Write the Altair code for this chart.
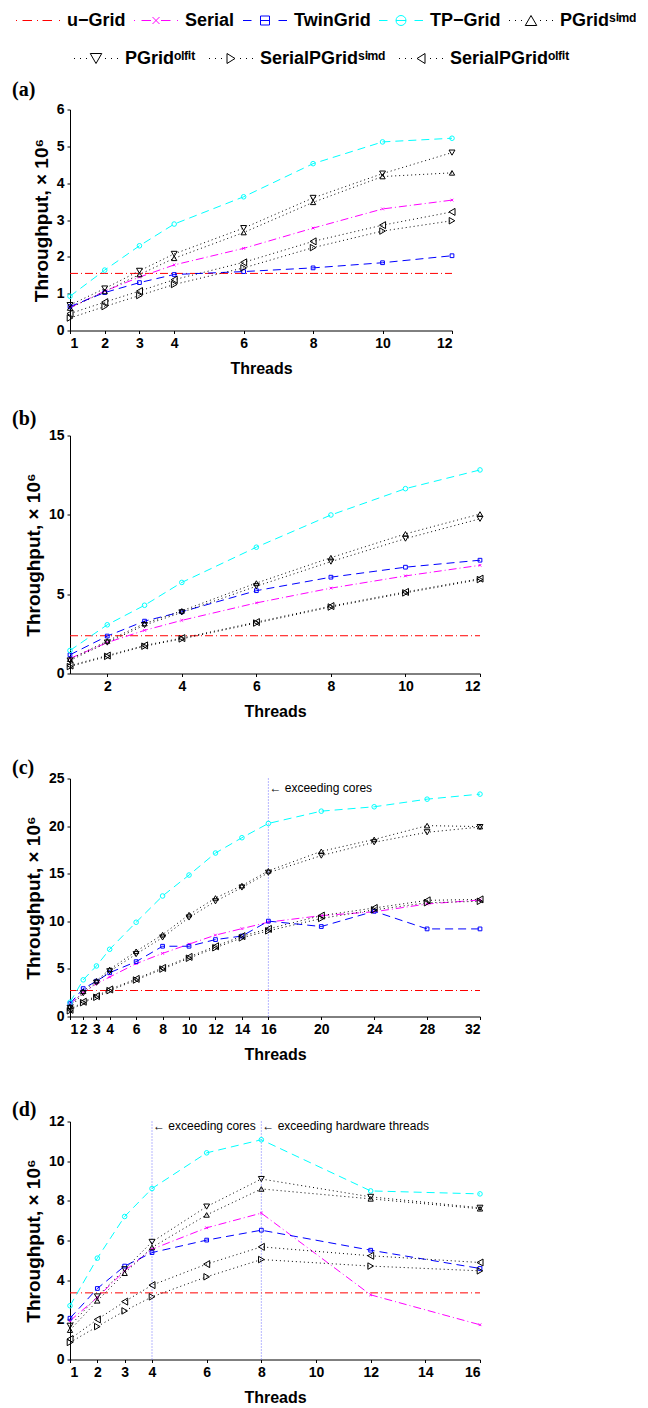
import altair as alt
import pandas as pd

# ---------------- data ----------------
NAMES = ["u−Grid", "Serial", "TwinGrid", "TP−Grid",
         "PGridˢⁱᵐᵈ", "PGridᵒˡᶠⁱᵗ", "SerialPGridˢⁱᵐᵈ", "SerialPGridᵒˡᶠⁱᵗ"]

# panel (a)
a_x = [1, 2, 3, 4, 6, 8, 10, 12]
a_ugrid = [1.55, 1.55, 1.55, 1.55, 1.55, 1.55, 1.55, 1.55]
a_serial = [0.62, 1.07, 1.45, 1.78, 2.23, 2.78, 3.30, 3.54]
a_twin = [0.65, 1.03, 1.30, 1.52, 1.60, 1.70, 1.84, 2.03]
a_tp = [0.93, 1.64, 2.30, 2.89, 3.63, 4.53, 5.12, 5.22]
a_psimd = [0.61, 1.06, 1.52, 1.96, 2.66, 3.48, 4.18, 4.28]
a_polfit = [0.69, 1.14, 1.62, 2.08, 2.78, 3.60, 4.26, 4.83]
a_spsimd = [0.34, 0.65, 0.95, 1.25, 1.70, 2.25, 2.70, 2.98]
a_spolfit = [0.46, 0.77, 1.07, 1.38, 1.85, 2.42, 2.86, 3.22]

# panel (b)
b_x = [1, 2, 3, 4, 6, 8, 10, 12]
b_ugrid = [2.38, 2.38, 2.38, 2.38, 2.38, 2.38, 2.38, 2.38]
b_serial = [0.95, 1.95, 2.72, 3.35, 4.45, 5.38, 6.15, 6.82]
b_twin = [1.18, 2.36, 3.30, 3.89, 5.22, 6.07, 6.70, 7.14]
b_tp = [1.45, 3.07, 4.30, 5.74, 7.96, 9.99, 11.65, 12.83]
b_psimd = [0.90, 2.05, 3.15, 3.95, 5.70, 7.30, 8.80, 10.05]
b_polfit = [0.82, 1.95, 3.05, 3.85, 5.50, 7.05, 8.50, 9.75]
b_spsimd = [0.44, 1.08, 1.72, 2.18, 3.18, 4.19, 5.08, 5.92]
b_spolfit = [0.50, 1.13, 1.77, 2.23, 3.24, 4.25, 5.14, 5.98]

# panel (c)
c_x = [1, 2, 3, 4, 6, 8, 10, 12, 14, 16, 20, 24, 28, 32]
c_ugrid = [2.73, 2.73, 2.73, 2.73, 2.73, 2.73, 2.73,
           2.73, 2.73, 2.73, 2.73, 2.73, 2.73, 2.73]
c_serial = [1.30, 2.50, 3.45, 4.15, 5.55, 6.63, 7.60, 8.55, 9.23, 9.91, 10.60, 11.00, 11.82, 12.24]
c_twin = [1.35, 2.93, 3.71, 4.60, 5.76, 7.38, 7.38, 8.08, 8.45, 10.02, 9.45, 11.05, 9.20, 9.20]
c_tp = [1.50, 3.85, 5.31, 7.06, 9.90, 12.66, 14.86, 17.17, 18.78, 20.28, 21.57, 22.03, 22.83, 23.36]
c_psimd = [1.05, 2.65, 3.75, 4.95, 6.85, 8.60, 10.70, 12.45, 13.75, 15.30, 17.35, 18.60, 20.05, 19.95]
c_polfit = [0.90, 2.45, 3.55, 4.75, 6.55, 8.30, 10.40, 12.10, 13.55, 15.10, 16.90, 18.30, 19.35, 19.90]
c_spsimd = [0.60, 1.45, 2.02, 2.72, 3.83, 4.98, 6.12, 7.22, 8.26, 9.00, 10.30, 11.20, 11.95, 12.10]
c_spolfit = [0.70, 1.55, 2.14, 2.84, 3.95, 5.10, 6.26, 7.38, 8.44, 9.20, 10.60, 11.40, 12.20, 12.30]

# panel (d)
d_x = [1, 2, 3, 4, 6, 8, 12, 16]
d_ugrid = [3.36, 3.36, 3.36, 3.36, 3.36, 3.36, 3.36, 3.36]
d_serial = [1.95, 3.13, 4.47, 5.56, 6.64, 7.38, 3.26, 1.75]
d_twin = [2.08, 3.58, 4.71, 5.39, 6.02, 6.52, 5.51, 4.59]
d_tp = [2.71, 5.11, 7.21, 8.62, 10.42, 11.08, 8.50, 8.35]
d_psimd = [1.48, 2.96, 4.35, 5.65, 7.29, 8.60, 8.10, 7.60]
d_polfit = [1.70, 3.18, 4.55, 5.93, 7.71, 9.10, 8.20, 7.65]
d_spsimd = [0.86, 1.66, 2.45, 3.16, 4.17, 5.04, 4.71, 4.47]
d_spolfit = [1.03, 2.02, 2.92, 3.75, 4.81, 5.68, 5.23, 4.89]

# axis ticks
a_xticks = [1, 2, 3, 4, 6, 8, 10, 12]
b_xticks = [2, 4, 6, 8, 10, 12]
c_xticks = [1, 2, 3, 4, 6, 8, 10, 12, 14, 16, 20, 24, 28, 32]
d_xticks = [1, 2, 3, 4, 6, 8, 10, 12, 14, 16]
a_yticks = [0, 1, 2, 3, 4, 5, 6]
b_yticks = [0, 5, 10, 15]
c_yticks = [0, 5, 10, 15, 20, 25]
d_yticks = [0, 2, 4, 6, 8, 10, 12]

# annotations (data units)
c_vlines = [16]
c_notes_x = [16]
c_notes_y = [23.95]
c_notes = ["← exceeding cores"]
d_vlines = [4, 8]
d_notes_x = [4, 8]
d_notes_y = [11.75, 11.75]
d_notes = ["← exceeding cores", "← exceeding hardware threads"]

# ---------------- styles ----------------
COLORS = ["#ff0000", "#ff00ff", "#0000ff", "#00ffff",
          "#000000", "#000000", "#000000", "#000000"]
DASHES = [[8, 3, 1, 3], [8, 3, 1, 3], [8, 5], [8, 5],
          [1, 3], [1, 3], [1, 3], [1, 3]]
XPATH = "M-1,-1L1,1M-1,1L1,-1"
SHAPES = ["circle", XPATH, "square", "circle",
          "triangle-up", "triangle-down", "triangle-right", "triangle-left"]
SIZES = [0, 49, 72, 64, 110, 110, 110, 110]


def seg(a, b):
    return f"M{a},0L{b},0"


def dot(a):
    return seg(a, round(a + 0.2, 2))


SQ = "M-0.9,-0.9L0.9,-0.9L0.9,0.9L-0.9,0.9Z"
CI = "M1,0A1,1,0,1,1,-1,0A1,1,0,1,1,1,0"
XS = "M-0.7,-0.7L0.7,0.7M-0.7,0.7L0.7,-0.7"
DOTS = dot(-4.4) + dot(-3.2) + dot(-2.0) + dot(1.8) + dot(3.0) + dot(4.2)
LEG_PATHS = [
    dot(-4.4) + seg(-3.1, -1.2) + dot(-0.2) + seg(0.9, 2.8) + dot(4.2),
    dot(-4.4) + seg(-2.9, -1.0) + XS + seg(1.0, 2.9) + dot(4.2),
    seg(-4.4, -2.7) + seg(-0.9, 0.9) + SQ + seg(2.7, 4.4),
    seg(-4.4, -2.7) + seg(-1, 1) + CI + seg(2.7, 4.4),
    DOTS + "M0,-1L1.15,1L-1.15,1Z",
    DOTS + "M0,1L1.15,-1L-1.15,-1Z",
    DOTS + "M0.8,0L-0.8,-1L-0.8,1Z",
    DOTS + "M-0.8,0L0.8,-1L0.8,1Z",
]

FONT = "Liberation Sans, Arial, Helvetica, sans-serif"
SERIF = "Liberation Serif, Times New Roman, serif"

color_scale = alt.Scale(domain=NAMES, range=COLORS)
dash_scale = alt.Scale(domain=NAMES, range=DASHES)
shape_scale = alt.Scale(domain=NAMES, range=SHAPES)
size_scale = alt.Scale(domain=NAMES, range=SIZES)


def make_df(x, lists):
    rows = []
    for name, vals in zip(NAMES, lists):
        for xi, v in zip(x, vals):
            rows.append({"threads": xi, "tput": v, "series": name})
    return pd.DataFrame(rows)


def legend_layer(df, X, Y, idx, lx, ly, colpad):
    names = [NAMES[i] for i in idx]
    leg = alt.Legend(
        title=None, orient="none", legendX=lx, legendY=ly,
        direction="horizontal", columns=len(names), gridAlign="none",
        symbolSize=100, symbolStrokeWidth=1, symbolOffset=14,
        labelOffset=20, columnPadding=colpad, padding=0,
        labelFont=FONT, labelFontSize=18, labelFontWeight="bold",
        labelColor="black", labelLimit=400, symbolFillColor="transparent",
    )
    return alt.Chart(df).transform_filter("false").mark_point(
        filled=False, opacity=1, size=100, strokeWidth=1
    ).encode(
        X, Y,
        color=alt.Color("series:N", scale=alt.Scale(domain=names, range=[COLORS[i] for i in idx]), legend=leg),
        shape=alt.Shape("series:N", scale=alt.Scale(domain=names, range=[LEG_PATHS[i] for i in idx]), legend=leg),
    )


def panel(x, lists, xdom, xticks, ydom, yticks, w, h, label, title_dy,
          vlines=None, nx=None, ny=None, notes=None, with_legend=False):
    df = make_df(x, lists)
    X = alt.X("threads:Q", scale=alt.Scale(domain=xdom, nice=False, zero=False),
              axis=alt.Axis(values=xticks, title="Threads", format="d", labelOverlap=False))
    Y = alt.Y("tput:Q", scale=alt.Scale(domain=ydom, nice=False),
              axis=alt.Axis(values=yticks, title="Throughput, × 10⁶", format="d", labelOverlap=False))
    base = alt.Chart(df)
    layers = []
    if vlines:
        layers.append(
            alt.Chart(pd.DataFrame({"threads": vlines})).mark_rule(
                color="#6f6fff", strokeDash=[1, 2], strokeWidth=1
            ).encode(x=X)
        )
    layers.append(
        base.mark_line(strokeWidth=1).encode(
            X, Y,
            color=alt.Color("series:N", scale=color_scale, legend=None),
            strokeDash=alt.StrokeDash("series:N", scale=dash_scale, legend=None),
            detail="series:N",
        )
    )
    layers.append(
        base.transform_filter(alt.datum.series != NAMES[0]).mark_point(
            filled=False, opacity=1, strokeWidth=1
        ).encode(
            X, Y,
            color=alt.Color("series:N", scale=color_scale, legend=None),
            shape=alt.Shape("series:N", scale=shape_scale, legend=None),
            size=alt.Size("series:N", scale=size_scale, legend=None),
        )
    )
    if notes:
        layers.append(
            alt.Chart(pd.DataFrame({"threads": nx, "tput": ny, "note": notes})).mark_text(
                align="left", baseline="middle", dx=1, font=FONT, fontSize=12, color="black"
            ).encode(x=X, y=Y, text="note:N")
        )
    props = dict(width=w, height=h)
    if with_legend:
        layers.append(legend_layer(df, X, Y, [0, 1, 2, 3, 4], -55, -98, 6))
        layers.append(legend_layer(df, X, Y, [5, 6, 7], 3, -60, 11))
        layers.append(
            alt.Chart(pd.DataFrame({"lab": [label]})).mark_text(
                align="left", baseline="bottom", font=SERIF, fontSize=20,
                fontWeight="bold", color="black"
            ).encode(x=alt.value(-58), y=alt.value(-10), text="lab:N")
        )
    else:
        props["title"] = alt.TitleParams(label, anchor="start", frame="group", dx=-58, dy=title_dy,
                                         offset=0, baseline="bottom", font=SERIF, fontSize=20,
                                         fontWeight="bold", color="black")
    ch = alt.layer(*layers).properties(**props)
    if with_legend:
        ch = ch.resolve_scale(color="independent", shape="independent")
    return ch


pa = panel(a_x, [a_ugrid, a_serial, a_twin, a_tp, a_psimd, a_polfit, a_spsimd, a_spolfit],
           [1, 12], a_xticks, [0, 6], a_yticks, 382, 221, "(a)", 0, with_legend=True)
pb = panel(b_x, [b_ugrid, b_serial, b_twin, b_tp, b_psimd, b_polfit, b_spsimd, b_spolfit],
           [1, 12], b_xticks, [0, 15], b_yticks, 410, 238, "(b)", 20)
pc = panel(c_x, [c_ugrid, c_serial, c_twin, c_tp, c_psimd, c_polfit, c_spsimd, c_spolfit],
           [1, 32], c_xticks, [0, 25], c_yticks, 410, 238, "(c)", 26,
           vlines=c_vlines, nx=c_notes_x, ny=c_notes_y, notes=c_notes)
pd_ = panel(d_x, [d_ugrid, d_serial, d_twin, d_tp, d_psimd, d_polfit, d_spsimd, d_spolfit],
            [1, 16], d_xticks, [0, 12], d_yticks, 410, 238, "(d)", 25,
            vlines=d_vlines, nx=d_notes_x, ny=d_notes_y, notes=d_notes)

RES = dict(color="independent", shape="independent", size="independent", strokeDash="independent")
chart = alt.vconcat(pa, pb, pc, pd_, spacing=105, bounds="flush").resolve_scale(**RES).properties(
    padding={"left": 4, "top": 3.5, "right": 0, "bottom": 0}, background="white"
).configure_view(stroke=None).configure_axis(
    grid=False, domainColor="black", tickColor="black", labelColor="black",
    titleColor="black", labelFont=FONT, labelFontSize=14, labelFontWeight="bold",
    titleFont=FONT, titleFontWeight="bold", tickSize=3, labelPadding=3,
    domainWidth=1, tickWidth=1, labelOverlap=False,
).configure_axisX(titleFontSize=16, titlePadding=10).configure_axisY(
    titleFontSize=19, titlePadding=5
)

chart.save("out.html", embed_options={"renderer": "svg", "actions": False})
